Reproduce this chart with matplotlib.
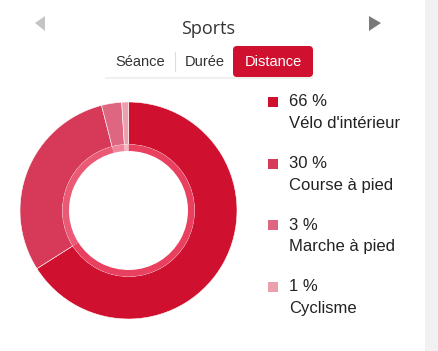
import matplotlib.pyplot as plt
from matplotlib.patches import FancyBboxPatch, Rectangle, Polygon

# data
sports = ["Vélo d'intérieur", "Course à pied", "Marche à pied", "Cyclisme"]
shares = [66, 30, 3, 1]
colors = ['#d0102f', '#d63a58', '#df6681', '#eba0ae']
inner_colors = ['#e8405e', '#ea5a75', '#ee8599', '#f3b8c3']
tabs = ['Séance', 'Durée', 'Distance']

W, H = 439, 351
fig = plt.figure(figsize=(W / 100, H / 100), dpi=100)
fig.patch.set_facecolor('white')

# donut
cx, cy, r_out = 128.5, 210.5, 108.5
ax = fig.add_axes([(cx - r_out) / W, 1 - (cy + r_out) / H, 2 * r_out / W, 2 * r_out / H])
ax.pie(shares, colors=colors, startangle=90, counterclock=False, radius=1.0,
       wedgeprops=dict(width=1 - 66 / r_out, edgecolor='white', linewidth=0.4))
ax.pie(shares, colors=inner_colors, startangle=90, counterclock=False, radius=66 / r_out,
       wedgeprops=dict(width=6.5 / r_out, edgecolor='none'))
ax.set_xlim(-1, 1)
ax.set_ylim(-1, 1)
ax.axis('off')

# overlay in pixel coordinates
ov = fig.add_axes([0, 0, 1, 1], zorder=5)
ov.set_xlim(0, W)
ov.set_ylim(H, 0)
ov.axis('off')
ov.patch.set_alpha(0)

ov.add_patch(Rectangle((425, 0), 14, H, color='#f1f1f1', lw=0))

ov.text(208, 29, 'Sports', ha='center', va='center', fontsize=13,
        family='Open Sans', color='#333333')
ov.add_patch(Polygon([(35, 23), (45, 16), (45, 31)], closed=True, color='#c4c4c4', lw=0))
ov.add_patch(Polygon([(381, 23), (369, 16), (369, 31)], closed=True, color='#7a7a7a', lw=0))

# tab bar
ov.add_patch(Rectangle((105, 48), 208, 31, color='#f0f0f0', lw=0))
ov.add_patch(Rectangle((104, 46), 209, 31, color='white', lw=0))
ov.plot([175, 175], [52, 71], color='#dddddd', lw=0.8)
ov.add_patch(FancyBboxPatch((233, 46), 80, 31, boxstyle='round,pad=0,rounding_size=4',
                            color='#d0102f', lw=0))
tab_x = [140, 205, 273]
for i, t in enumerate(tabs):
    ov.text(tab_x[i], 62, t, ha='center', va='center', fontsize=10.5,
            family='Liberation Sans', color='white' if i == 2 else '#333333')

# legend
for i, (name, pct) in enumerate(zip(sports, shares)):
    y = 102 + i * 61.5
    ov.add_patch(Rectangle((268, y - 5), 10, 10, color=colors[i], lw=0))
    ov.text(289, y, f'{pct} %', ha='left', va='center', fontsize=12,
            family='Liberation Sans', color='#222222')
    ov.text(289, y + 22, name, ha='left', va='center', fontsize=12,
            family='Liberation Sans', color='#222222')

fig.savefig('out.png', dpi=100)
